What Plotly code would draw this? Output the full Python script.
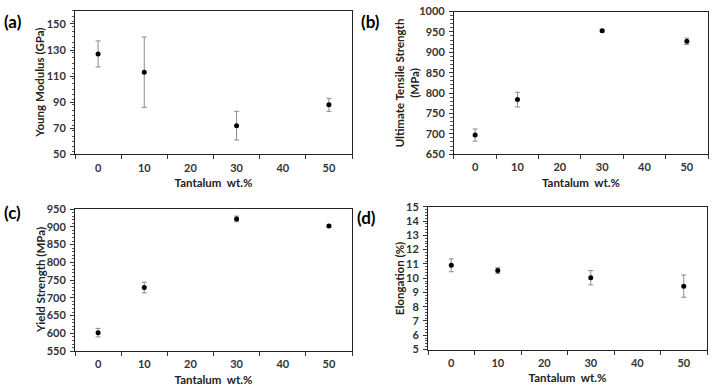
import plotly.graph_objects as go

# Data
ta_wt = [0, 10, 30, 50]
x_ticks = [0, 10, 20, 30, 40, 50]

young_modulus = [127, 113, 72, 88]
young_err = [10, 27, 11, 5]

uts = [697, 784, 953, 927]
uts_err = [15, 18, 3, 8]

yield_strength = [602, 729, 922, 902]
yield_err = [12, 15, 8, 3]

elongation = [10.9, 10.53, 10.03, 9.44]
elong_err = [0.45, 0.2, 0.5, 0.78]

panels = [
    dict(y=young_modulus, e=young_err, title="Young Modulus (GPa)", rng=[50, 160],
         dtick=20, tick0=50, minor=4, label="(a)", tx=0.0561,
         xd=[0.1052, 0.4937], yd=[0.609, 0.9897]),
    dict(y=uts, e=uts_err, title="Ultimate Tensile Strength<br>(MPa)", rng=[650, 1000],
         dtick=50, tick0=650, minor=10, label="(b)", tx=0.5701,
         xd=[0.6367, 0.993], yd=[0.6095, 0.988]),
    dict(y=yield_strength, e=yield_err, title="Yield Strength (MPa)", rng=[550, 950],
         dtick=50, tick0=550, minor=10, label="(c)", tx=0.0561,
         xd=[0.1052, 0.4937], yd=[0.0872, 0.4641]),
    dict(y=elongation, e=elong_err, title="Elongation (%)", rng=[5, 15],
         dtick=1, tick0=5, minor=0.2, label="(d)", tx=0.5596,
         xd=[0.6003, 0.9916], yd=[0.0915, 0.47]),
]

label_pos = [(0.003, 0.995), (0.503, 0.995), (0.003, 0.487), (0.498, 0.475)]

FONT = "Lato"
tick_font = dict(family=FONT, size=11, color="#333333", weight="bold")
title_font = dict(family=FONT, size=11.5, color="#222222", weight="bold")

fig = go.Figure()
layout = dict(
    width=713, height=390,
    margin=dict(l=0, r=0, t=0, b=0),
    paper_bgcolor="white", plot_bgcolor="white",
    showlegend=False,
    annotations=[],
)

for i, p in enumerate(panels):
    n = "" if i == 0 else str(i + 1)
    fig.add_trace(go.Scatter(
        x=ta_wt, y=p["y"], mode="markers",
        marker=dict(color="black", size=5),
        error_y=dict(type="data", array=p["e"], visible=True,
                     color="#8c8c8c", thickness=1, width=2.5),
        xaxis="x" + n, yaxis="y" + n,
    ))
    layout["xaxis" + n] = dict(
        domain=p["xd"], anchor="y" + n, range=[-5, 55],
        tickmode="array", tickvals=x_ticks, ticks="",
        ticklabelstandoff=3,
        minor=dict(tickmode="array", tickvals=[-5, 5, 15, 25, 35, 45, 55],
                   ticks="outside", ticklen=4, tickcolor="#333333", showgrid=False),
        showline=True, linecolor="#222222", linewidth=1, mirror=True,
        showgrid=False, zeroline=False, tickfont=tick_font,
        title=dict(text="Tantalum  wt.%", font=title_font, standoff=6),
    )
    layout["yaxis" + n] = dict(
        domain=p["yd"], anchor="x" + n, range=p["rng"],
        tick0=p["tick0"], dtick=p["dtick"], ticks="outside", ticklen=4,
        tickcolor="#333333", ticklabelstandoff=2,
        minor=dict(dtick=p["minor"], ticks="outside", ticklen=2.5,
                   tickcolor="#555555", showgrid=False),
        showline=True, linecolor="#222222", linewidth=1, mirror=True,
        showgrid=False, zeroline=False, tickfont=tick_font,
    )
    # y-axis title placed as rotated text beside the axis
    layout["annotations"].append(dict(
        text=p["title"], x=p["tx"], y=sum(p["yd"]) / 2, xref="paper", yref="paper",
        xanchor="center", yanchor="middle", textangle=-90, showarrow=False,
        font=title_font,
    ))
    lx, ly = label_pos[i]
    layout["annotations"].append(dict(
        text=p["label"], x=lx, y=ly, xref="paper", yref="paper",
        xanchor="left", yanchor="top", showarrow=False,
        font=dict(family=FONT, size=17, color="black", weight="bold"),
    ))

fig.update_layout(**layout)
fig.write_html("out.html", config={"displayModeBar": False},
               post_script="document.body.style.margin='0';document.body.style.overflow='hidden';")
